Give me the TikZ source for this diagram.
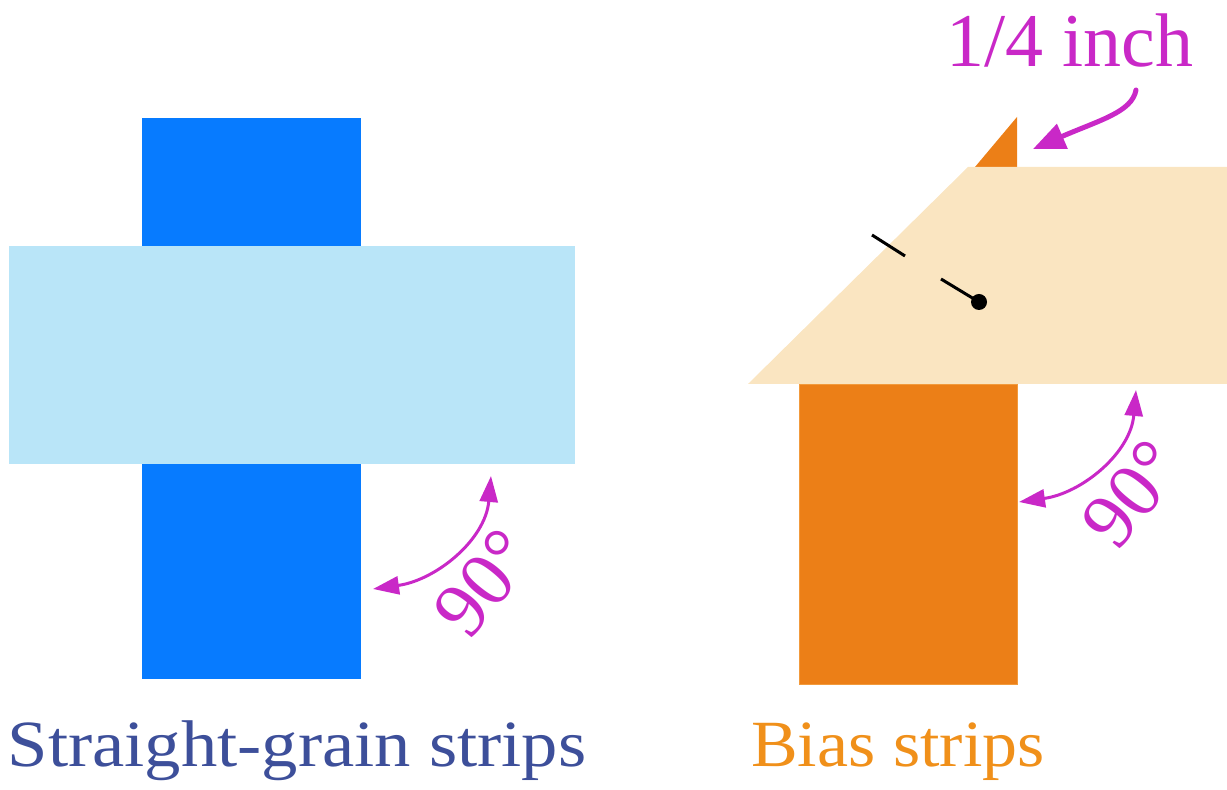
\documentclass[tikz,border=0pt]{standalone}
\usepackage{fontspec}
\setmainfont{Liberation Serif}
\usetikzlibrary{arrows.meta}
\definecolor{dblue}{RGB}{7,123,255}
\definecolor{lblue}{RGB}{185,229,248}
\definecolor{orng}{RGB}{236,127,23}
\definecolor{orngedge}{RGB}{242,154,60}
\definecolor{peach}{RGB}{250,229,193}
\definecolor{mag}{RGB}{201,40,199}
\definecolor{navy}{RGB}{61,79,154}
\definecolor{ltxt}{RGB}{240,144,26}
\tikzset{
  angarrow/.style={draw=mag, line width=1.5pt, {Triangle[length=13pt,width=9pt]}-{Triangle[length=13pt,width=9pt]}},
  anglabel/.style={text=mag, font=\fontsize{39}{39}\selectfont, rotate=51, inner sep=0pt},
  caption/.style={font=\fontsize{33}{33}\selectfont, anchor=base, inner sep=0pt},
  mark line/.style={line width=1.5pt, black},
}
\begin{document}
\begin{tikzpicture}[x=0.5pt,y=0.5pt]
\useasboundingbox (0,0) rectangle (1227,790);
% straight grain
\fill[dblue] (142,111) rectangle (361,672);
\fill[lblue] (9,326) rectangle (575,544);
% bias
\fill[orng] (975,623) -- (1017,623) -- (1017,673) -- cycle;
\filldraw[fill=orng, draw=orngedge, line width=0.5pt] (799,105) rectangle (1017,405);
\fill[peach] (748,406) -- (1227,406) -- (1227,623) -- (968,623) -- cycle;
% marks
\coordinate (m1a) at (872,555);
\coordinate (m1b) at (905,534);
\coordinate (m2a) at (941,511);
\coordinate (dot) at (979,488);
\draw[mark line] (m1a) -- (m1b);
\draw[mark line] (m2a) -- (dot);
\fill (dot) circle (4pt);
% angle arrows
\coordinate (la) at (373,201);
\coordinate (lb) at (491,314);
\draw[angarrow] (la) to[out=8,in=-95] (lb);
\node[anglabel] (l90) at (484,207) {90°};
\coordinate (ra) at (1019,288);
\coordinate (rb) at (1136,400);
\draw[angarrow] (ra) to[out=8,in=-95] (rb);
\node[anglabel] (r90) at (1132,296) {90°};
% 1/4 inch
\node[text=mag, font=\fontsize{38}{38}\selectfont, anchor=base, inner sep=0pt] (q) at (1070,723) {1/4 inch};
\coordinate (qt) at (1136,700);
\coordinate (qh) at (1033,641);
\draw[mag, line width=2.5pt, line cap=round, -{Triangle[length=16pt,width=13pt]}] (qt) .. controls (1132,678) and (1100,670) .. (qh);
% captions
\node[caption, text=navy, xscale=1.1] (c1) at (297,23) {Straight-grain strips};
\node[caption, text=ltxt, xscale=1.06] (c2) at (898,23) {Bias strips};
\end{tikzpicture}
\end{document}
